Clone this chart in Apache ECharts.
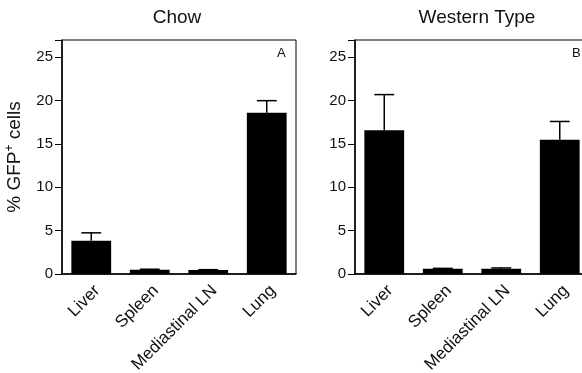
<!DOCTYPE html>
<html>
<head>
<meta charset="utf-8">
<script src="https://cdn.jsdelivr.net/npm/echarts@6/dist/echarts.min.js"></script>
<style>
  html, body { margin: 0; padding: 0; background: #fff; }
  #chart { width: 582px; height: 373px; }
</style>
</head>
<body>
<div id="chart"></div>
<script>
// data
var categories = ['Liver', 'Spleen', 'Mediastinal LN', 'Lung'];
var chowMean = [3.85, 0.5, 0.45, 18.6];
var chowErr = [0.9, 0.05, 0.05, 1.4];
var westernMean = [16.6, 0.6, 0.6, 15.5];
var westernErr = [4.1, 0.05, 0.1, 2.1];
var panelTitles = ['Chow', 'Western Type'];
var panelLetters = ['A', 'B'];

var font = '"Liberation Sans", Arial, sans-serif';

function errData(mean, err) {
  return mean.map(function (m, i) { return [i, m, err[i]]; });
}

function renderErr(params, api) {
  var x = api.value(0), m = api.value(1), e = api.value(2);
  var base = api.coord([x, m]);
  var top = api.coord([x, m + e]);
  var hw = api.size([1, 0])[0] * 0.17;
  var st = { stroke: '#000', lineWidth: 1.5 };
  return {
    type: 'group',
    children: [
      { type: 'line', shape: { x1: base[0], y1: base[1], x2: top[0], y2: top[1] }, style: st },
      { type: 'line', shape: { x1: top[0] - hw, y1: top[1], x2: top[0] + hw, y2: top[1] }, style: st }
    ]
  };
}

function xAxis(idx) {
  return {
    type: 'category', gridIndex: idx, data: categories,
    axisLine: { lineStyle: { color: '#000', width: 1.5 } },
    axisTick: { show: false },
    axisLabel: { rotate: 45, interval: 0, fontSize: 17, color: '#111', fontFamily: font,
      margin: 8, verticalAlign: 'top' }
  };
}

function yAxis(idx) {
  var ax = {
    type: 'value', gridIndex: idx, min: 0, max: 27, interval: 5,
    axisLine: { show: true, lineStyle: { color: '#000', width: 1.5 } },
    axisTick: { show: true, inside: false, length: 7, lineStyle: { color: '#000', width: 1 } },
    axisLabel: { fontSize: 15, color: '#111', fontFamily: font, margin: 9,
      formatter: function (v) { return v % 5 === 0 ? v : ''; } },
    splitLine: { show: false }
  };
  if (idx === 0) {
    ax.name = '% GFP{sup|+} cells';
    ax.nameLocation = 'middle';
    ax.nameGap = 36;
    ax.nameTextStyle = {
      fontSize: 19, color: '#111', fontFamily: font,
      rich: { sup: { fontSize: 12, verticalAlign: 'top', padding: [0, 0, 10, 0] } }
    };
  }
  return ax;
}

var myChart = echarts.init(document.getElementById('chart'));
var option = {
  backgroundColor: '#fff',
  animation: false,
  graphic: [
    { type: 'text', x: 177, y: 8, style: { text: panelTitles[0], font: '19px ' + font, fill: '#111', textAlign: 'center' } },
    { type: 'text', x: 477, y: 8, style: { text: panelTitles[1], font: '19px ' + font, fill: '#111', textAlign: 'center' } },
    { type: 'text', x: 277, y: 47, style: { text: panelLetters[0], font: '13px ' + font, fill: '#111' } },
    { type: 'text', x: 572, y: 47, style: { text: panelLetters[1], font: '13px ' + font, fill: '#111' } }
  ],
  grid: [
    { left: 62, top: 40, width: 234, height: 234, show: true, borderColor: '#000', borderWidth: 1, outerBoundsMode: 'none' },
    { left: 355, top: 40, width: 234, height: 234, show: true, borderColor: '#000', borderWidth: 1, outerBoundsMode: 'none' }
  ],
  xAxis: [xAxis(0), xAxis(1)],
  yAxis: [yAxis(0), yAxis(1)],
  series: [
    { type: 'bar', xAxisIndex: 0, yAxisIndex: 0, data: chowMean, barWidth: '68%', itemStyle: { color: '#000' } },
    { type: 'bar', xAxisIndex: 1, yAxisIndex: 1, data: westernMean, barWidth: '68%', itemStyle: { color: '#000' } },
    { type: 'custom', xAxisIndex: 0, yAxisIndex: 0, data: errData(chowMean, chowErr), renderItem: renderErr, encode: { x: 0, y: 1 }, z: 3 },
    { type: 'custom', xAxisIndex: 1, yAxisIndex: 1, data: errData(westernMean, westernErr), renderItem: renderErr, encode: { x: 0, y: 1 }, z: 3 }
  ]
};
myChart.setOption(option);
</script>
</body>
</html>
